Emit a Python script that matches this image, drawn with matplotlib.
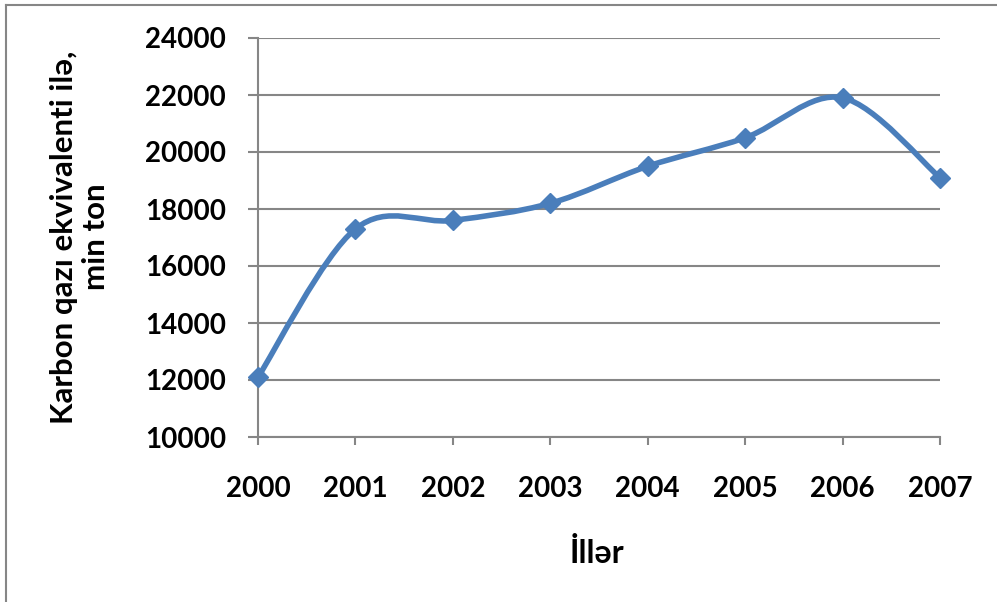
import numpy as np
import matplotlib
matplotlib.use('Agg')
import matplotlib.pyplot as plt
from matplotlib.path import Path
from matplotlib.patches import PathPatch
from matplotlib.lines import Line2D

years = [2000, 2001, 2002, 2003, 2004, 2005, 2006, 2007]
values = [12100, 17300, 17600, 18200, 19500, 20500, 21900, 19100]
y_ticks = [10000, 12000, 14000, 16000, 18000, 20000, 22000, 24000]

blue = '#4A7EBB'
gray = '#868686'

plt.rcParams['font.family'] = ['Lato', 'DejaVu Sans']
plt.rcParams['font.weight'] = 'bold'


def smooth_path(xs, ys):
    # Excel-like smoothed line: cubic bezier with catmull-rom control points
    pts = np.column_stack([xs, ys]).astype(float)
    ext = np.vstack([pts[0], pts, pts[-1]])
    verts = [pts[0]]
    codes = [Path.MOVETO]
    for i in range(1, len(ext) - 2):
        p0, p1, p2, p3 = ext[i - 1], ext[i], ext[i + 1], ext[i + 2]
        c1 = p1 + (p2 - p0) / 6.0
        c2 = p2 - (p3 - p1) / 6.0
        verts += [c1, c2, p2]
        codes += [Path.CURVE4] * 3
    return Path(verts, codes)


fig = plt.figure(figsize=(9.97, 6.02), dpi=100)
ax = fig.add_axes([258 / 997, 1 - 437 / 602, (940 - 258) / 997, (437 - 38) / 602])

ax.add_patch(PathPatch(smooth_path(years, values), fill=False,
                       edgecolor=blue, lw=4, capstyle='round', zorder=3))
ax.plot(years, values, linestyle='none', marker='D', markersize=10,
        color=blue, zorder=4, clip_on=False)

ax.set_xlim(2000, 2007)
ax.set_ylim(10000, 24000)
ax.set_xticks(years)
ax.set_yticks(y_ticks)
ax.set_xticklabels([str(y) for y in years])
ax.set_yticklabels([str(v) for v in y_ticks])

ax.grid(axis='y', color=gray, lw=1.5)
ax.set_axisbelow(True)
for s in ['top', 'right']:
    ax.spines[s].set_visible(False)
for s in ['left', 'bottom']:
    ax.spines[s].set_color(gray)
    ax.spines[s].set_linewidth(1.5)

ax.tick_params(axis='y', direction='out', length=7, width=1.5, color=gray,
               pad=16, labelsize=20)
ax.tick_params(axis='x', direction='out', length=6, width=1.5, color=gray,
               pad=22, labelsize=20)

# axis titles placed like in the original chart
fig.text(80 / 997, 1 - 237 / 602, 'Karbon qazı ekvivalenti ilə,\nmin ton',
         rotation=90, ha='center', va='center', fontsize=22.5,
         fontweight='bold', linespacing=1.2, multialignment='center')
fig.text(597 / 997, 1 - 553 / 602, 'İllər', ha='center', va='center',
         fontsize=23, fontweight='bold')

# chart border (only top and left visible)
fig.add_artist(Line2D([6 / 997, 6 / 997], [0, 1 - 5 / 602], color=gray, lw=1.5))
fig.add_artist(Line2D([6 / 997, 1], [1 - 5 / 602, 1 - 5 / 602], color=gray, lw=1.5))

fig.savefig('out.png', dpi=100)
